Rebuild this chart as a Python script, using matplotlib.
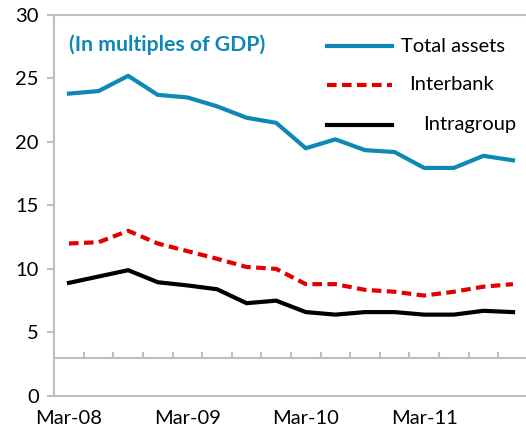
import matplotlib.pyplot as plt
from matplotlib.lines import Line2D

plt.rcParams['font.family'] = ['Lato', 'DejaVu Sans']

# Quarterly, Mar-08 .. Dec-11 (multiples of GDP)
quarters = ['Mar-08', 'Jun-08', 'Sep-08', 'Dec-08',
            'Mar-09', 'Jun-09', 'Sep-09', 'Dec-09',
            'Mar-10', 'Jun-10', 'Sep-10', 'Dec-10',
            'Mar-11', 'Jun-11', 'Sep-11', 'Dec-11']
total_assets = [23.8, 24.0, 25.2, 23.7, 23.5, 22.8, 21.9, 21.5,
                19.5, 20.2, 19.35, 19.2, 17.95, 17.95, 18.9, 18.55]
interbank = [12.0, 12.1, 13.0, 12.0, 11.4, 10.8, 10.15, 10.0,
             8.8, 8.8, 8.35, 8.2, 7.9, 8.2, 8.6, 8.8]
intragroup = [8.9, 9.4, 9.9, 8.95, 8.7, 8.4, 7.3, 7.5,
              6.6, 6.4, 6.6, 6.6, 6.4, 6.4, 6.7, 6.6]
yticks = [0, 5, 10, 15, 20, 25, 30]

blue = '#0E88B4'
red = '#E00000'
grey = '#BFBFBF'

fig = plt.figure(figsize=(5.26, 4.37), dpi=100)
ax = fig.add_axes([0.103, 0.094, 0.9004, 0.872])

x = list(range(len(quarters)))
ax.plot(x, total_assets, color=blue, lw=3)
ax.plot(x, interbank, color=red, lw=3, ls=(0, (2.3, 1.3)))
ax.plot(x, intragroup, color='black', lw=3)

ax.set_xlim(-0.5, len(quarters) - 0.5)
ax.set_ylim(0, 30)

# category axis line crossing at 3, ticks between categories
ax.axhline(3, color=grey, lw=1.5, zorder=0)
ax.vlines([i + 0.5 for i in range(len(quarters) - 1)], 3, 3.45, color=grey, lw=1.5, zorder=0)

ax.set_yticks(yticks)
ax.set_yticklabels([str(v) for v in yticks], fontsize=14.5)
ax.tick_params(axis='y', length=5, width=1.5, color=grey, pad=6)
ax.set_xticks(x[::4])
ax.set_xticklabels(quarters[::4], fontsize=14.5)
ax.tick_params(axis='x', length=0, pad=10)

for s in ['left', 'bottom', 'top']:
    ax.spines[s].set_color(grey)
    ax.spines[s].set_linewidth(1.5)
ax.spines['right'].set_visible(False)

ax.text(0.031, 0.922, '(In multiples of GDP)', transform=ax.transAxes,
        color=blue, fontsize=15.3, fontweight='bold', va='center')

# legend drawn by hand to keep the label offsets
leg = [('Total assets', blue, '-', 0.917, 0.733),
       ('Interbank', red, (0, (2.3, 1.3)), 0.816, 0.750),
       ('Intragroup', 'black', '-', 0.711, 0.779)]
for label, col, style, yy, tx in leg:
    ax.add_line(Line2D([0.575, 0.713], [yy, yy], transform=ax.transAxes,
                       color=col, lw=3, ls=style))
    ax.text(tx, yy, label, transform=ax.transAxes, fontsize=14.5, va='center')

fig.savefig('out.png', dpi=100)
